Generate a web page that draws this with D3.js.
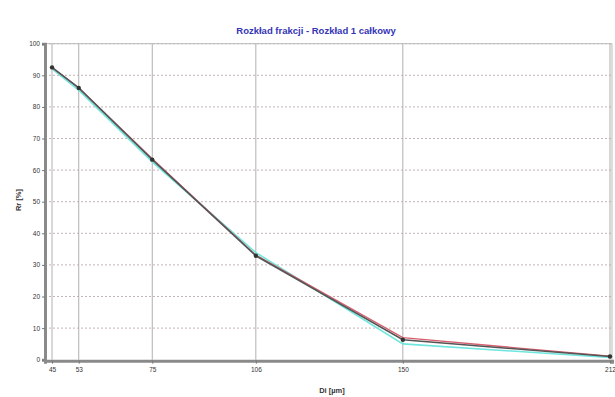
<!DOCTYPE html>
<html>
<head>
<meta charset="utf-8">
<script src="https://cdn.jsdelivr.net/npm/d3@7"></script>
<style>
  html, body { margin: 0; padding: 0; background: #fff; }
  svg { display: block; font-family: "Liberation Sans", Arial, sans-serif; }
</style>
</head>
<body>
<svg id="chart" width="615" height="397"></svg>
<script>
// Sieve sizes (µm) and cumulative residue (%)
const sizes = [45, 53, 75, 106, 150, 212];
const sizeLabels = ["45", "53", "75", "106", "150", "212"];
const residueMeasured = [92.5, 86.0, 63.3, 32.9, 6.3, 1.0];
const residueModelA = [92.5, 86.0, 63.6, 33.1, 7.0, 1.1];
const residueModelB = [92.0, 85.3, 62.6, 33.9, 5.0, 0.7];
const yTicks = [0, 10, 20, 30, 40, 50, 60, 70, 80, 90, 100];

const svg = d3.select("#chart");
const plotLeft = 45, plotRight = 612, plotTop = 43.7, plotBottom = 359.7;

const x = d3.scaleLinear().domain([42.9, 212.6]).range([plotLeft, plotRight]);
const y = d3.scaleLinear().domain([0, 100]).range([plotBottom, plotTop]);

// horizontal dotted grid
svg.append("g")
  .selectAll("line")
  .data(yTicks.filter(d => d > 0))
  .join("line")
  .attr("x1", plotLeft).attr("x2", plotRight)
  .attr("y1", d => y(d)).attr("y2", d => y(d))
  .attr("stroke", "#c4b4b6")
  .attr("stroke-width", 1)
  .attr("stroke-dasharray", "2,2");

// vertical grid at sieve sizes
svg.append("g")
  .selectAll("line")
  .data(sizes)
  .join("line")
  .attr("x1", d => x(d)).attr("x2", d => x(d))
  .attr("y1", plotTop).attr("y2", plotBottom)
  .attr("stroke", "#b0b0b0")
  .attr("stroke-width", 1);

// top and right frame
svg.append("line").attr("x1", plotLeft).attr("x2", plotRight).attr("y1", plotTop).attr("y2", plotTop)
  .attr("stroke", "#bbb").attr("stroke-width", 1);
svg.append("line").attr("x1", plotRight).attr("x2", plotRight).attr("y1", plotTop).attr("y2", plotBottom)
  .attr("stroke", "#bbb").attr("stroke-width", 1);

// axes
const yAxis = d3.axisLeft(y).tickValues(yTicks).tickSize(3).tickPadding(2);
const gy = svg.append("g").attr("transform", `translate(${plotLeft},0)`).call(yAxis);
gy.select(".domain").attr("stroke", "#8a8a8a").attr("stroke-width", 3);
gy.selectAll(".tick line").attr("stroke", "#777");
gy.selectAll("text").attr("font-size", 6.5).attr("fill", "#333");

const xAxis = d3.axisBottom(x).tickValues(sizes).tickFormat((d, i) => sizeLabels[i]).tickSize(3).tickPadding(4);
const gx = svg.append("g").attr("transform", `translate(0,${plotBottom + 1})`).call(xAxis);
gx.select(".domain").attr("stroke", "#8a8a8a").attr("stroke-width", 3);
gx.selectAll(".tick line").attr("stroke", "#777");
gx.selectAll("text").attr("font-size", 6.5).attr("fill", "#333");

// curves
const line = d3.line().x((d, i) => x(sizes[i])).y(d => y(d));
svg.append("path").datum(residueModelB).attr("d", line)
  .attr("fill", "none").attr("stroke", "#6fe6de").attr("stroke-width", 1.6);
svg.append("path").datum(residueModelA).attr("d", line)
  .attr("fill", "none").attr("stroke", "#d86070").attr("stroke-width", 1.3);
svg.append("path").datum(residueMeasured).attr("d", line)
  .attr("fill", "none").attr("stroke", "#555").attr("stroke-width", 1.6);

svg.append("g").selectAll("circle")
  .data(residueMeasured)
  .join("circle")
  .attr("cx", (d, i) => x(sizes[i]))
  .attr("cy", d => y(d))
  .attr("r", 2.2)
  .attr("fill", "#333");

// title and axis labels
svg.append("text").attr("x", 316).attr("y", 34).attr("text-anchor", "middle")
  .attr("font-size", 9.5).attr("font-weight", "bold").attr("fill", "#3535b5")
  .text("Rozkład frakcji - Rozkład 1 całkowy");

svg.append("text").attr("x", 332).attr("y", 393).attr("text-anchor", "middle")
  .attr("font-size", 7.5).attr("font-weight", "bold").attr("fill", "#333")
  .text("Di [µm]");

svg.append("text").attr("transform", "translate(21,200) rotate(-90)")
  .attr("text-anchor", "middle")
  .attr("font-size", 7.5).attr("font-weight", "bold").attr("fill", "#333")
  .text("Rr [%]");
</script>
</body>
</html>
